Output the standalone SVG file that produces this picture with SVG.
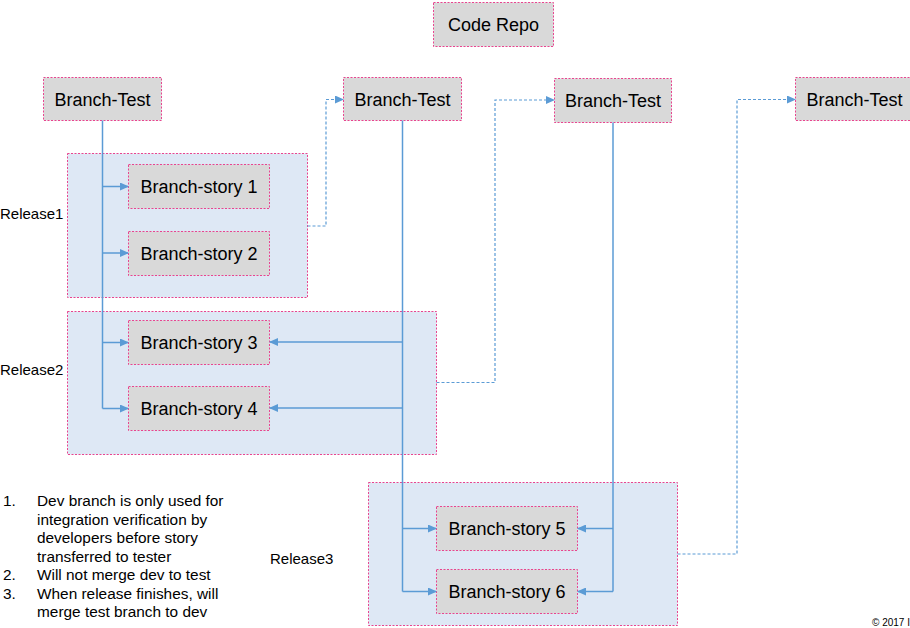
<svg xmlns="http://www.w3.org/2000/svg" width="910" height="628" viewBox="0 0 910 628">
<defs>
<marker id="arr" markerWidth="9" markerHeight="8" refX="8" refY="4" orient="auto" markerUnits="userSpaceOnUse">
<path d="M0,0 L9,4 L0,8 z" fill="#5b9bd5"/>
</marker>
<style>
.box{fill:#d9d9d9;stroke:#e8458f;stroke-width:1;stroke-dasharray:2,1.5}
.rel{fill:#dee8f5;stroke:#e8458f;stroke-width:1;stroke-dasharray:2,1.5}
.t{font-family:"Liberation Sans",Arial,sans-serif;font-size:18px;fill:#000;text-anchor:middle}
.lbl{font-family:"Liberation Sans",Arial,sans-serif;font-size:15px;fill:#000}
.ln{fill:none;stroke:#5b9bd5;stroke-width:1.5}
.dl{fill:none;stroke:#5b9bd5;stroke-width:1.2;stroke-dasharray:3,2}
</style>
</defs>
<rect width="910" height="628" fill="#fff"/>

<g id="release1"><rect class="rel" x="67.5" y="153.5" width="240" height="144"/><text class="lbl" x="0" y="219">Release1</text></g>
<g id="release2"><rect class="rel" x="67.5" y="311.5" width="369" height="143"/><text class="lbl" x="0" y="375">Release2</text></g>
<g id="release3"><rect class="rel" x="368.5" y="482.5" width="309" height="143"/><text class="lbl" x="270" y="564">Release3</text></g>

<g id="code-repo"><rect class="box" x="433.5" y="2.5" width="120" height="44"/><text class="t" x="493.5" y="31">Code Repo</text></g>
<g id="branch-test-1"><rect class="box" x="43.5" y="77.5" width="118" height="43"/><text class="t" x="102.5" y="105.5">Branch-Test</text></g>
<g id="branch-test-2"><rect class="box" x="343.5" y="77.5" width="118" height="43"/><text class="t" x="402.5" y="105.5">Branch-Test</text></g>
<g id="branch-test-3"><rect class="box" x="554.5" y="78.5" width="117" height="44"/><text class="t" x="613" y="107">Branch-Test</text></g>
<g id="branch-test-4"><rect class="box" x="795.5" y="77.5" width="118" height="43"/><text class="t" x="854.5" y="105.5">Branch-Test</text></g>

<g id="branch-story-1"><rect class="box" x="128.5" y="164.5" width="141" height="44"/><text class="t" x="199" y="193">Branch-story 1</text></g>
<g id="branch-story-2"><rect class="box" x="128.5" y="231.5" width="141" height="44"/><text class="t" x="199" y="260">Branch-story 2</text></g>
<g id="branch-story-3"><rect class="box" x="128.5" y="320.5" width="141" height="44"/><text class="t" x="199" y="349">Branch-story 3</text></g>
<g id="branch-story-4"><rect class="box" x="128.5" y="386.5" width="141" height="44"/><text class="t" x="199" y="415">Branch-story 4</text></g>
<g id="branch-story-5"><rect class="box" x="436.5" y="506.5" width="141" height="44"/><text class="t" x="507" y="535">Branch-story 5</text></g>
<g id="branch-story-6"><rect class="box" x="436.5" y="569.5" width="141" height="44"/><text class="t" x="507" y="598">Branch-story 6</text></g>

<g id="connectors">
<path class="ln" d="M102.5,120.5 V408.5"/>
<path class="ln" d="M102.5,186.5 H128" marker-end="url(#arr)"/>
<path class="ln" d="M102.5,253 H128" marker-end="url(#arr)"/>
<path class="ln" d="M102.5,342.5 H128" marker-end="url(#arr)"/>
<path class="ln" d="M102.5,408.5 H128" marker-end="url(#arr)"/>

<path class="ln" d="M402.5,120.5 V591.5"/>
<path class="ln" d="M402.5,342 H270" marker-end="url(#arr)"/>
<path class="ln" d="M402.5,408 H270" marker-end="url(#arr)"/>
<path class="ln" d="M402.5,528.5 H436" marker-end="url(#arr)"/>
<path class="ln" d="M402.5,591.5 H436" marker-end="url(#arr)"/>

<path class="ln" d="M613,122.5 V591.5"/>
<path class="ln" d="M613,528.5 H578" marker-end="url(#arr)"/>
<path class="ln" d="M613,591.5 H578" marker-end="url(#arr)"/>

<path class="dl" d="M307.5,226 H326 V99.5 H343" marker-end="url(#arr)"/>
<path class="dl" d="M436.5,382.5 H495 V100 H554" marker-end="url(#arr)"/>
<path class="dl" d="M677.5,554 H737 V99.5 H795" marker-end="url(#arr)"/>
</g>

<g id="notes" font-family="'Liberation Sans',Arial,sans-serif" font-size="15.4" fill="#000">
<text x="3" y="506">1.</text><text x="37" y="506">Dev branch is only used for</text>
<text x="37" y="524.5">integration verification by</text>
<text x="37" y="543">developers before story</text>
<text x="37" y="561.5">transferred to tester</text>
<text x="3" y="580">2.</text><text x="37" y="580">Will not merge dev to test</text>
<text x="3" y="598.5">3.</text><text x="37" y="598.5">When release finishes, will</text>
<text x="37" y="617">merge test branch to dev</text>
</g>
<text x="872" y="626" font-family="'Liberation Sans',Arial,sans-serif" font-size="10" fill="#000">© 2017 I</text>
</svg>
